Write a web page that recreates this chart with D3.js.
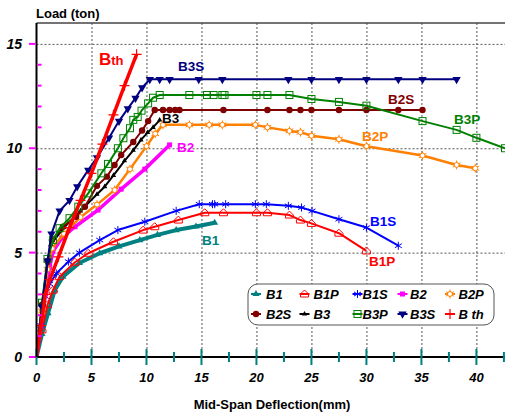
<!DOCTYPE html>
<html>
<head>
<meta charset="utf-8">
<script src="https://cdn.jsdelivr.net/npm/d3@7"></script>
<style>
  body { margin: 0; background: #fff; }
  svg text { font-family: "Liberation Sans", Arial, sans-serif; font-weight: bold; }
</style>
</head>
<body>
<svg class="chart"></svg>
<script>
var svgWidth = 505;
var svgHeight = 414;

// load-deflection data, [deflection mm, load ton]
var B1 = [[0,0],[0.5,1.1],[1.05,2.1],[1.66,3.2],[2.4,3.85],[3.9,4.5],[5.75,4.97],[7.5,5.3],[9.4,5.6],[11,5.85],[12.7,6.08],[14.5,6.25],[16.2,6.43]];
var B1P = [[0,0],[0.5,1.3],[1.0,2.5],[1.5,3.2],[2.1,3.85],[3.5,4.54],[4.7,4.97],[7.0,5.52],[9.7,6.08],[10.75,6.24],[12.9,6.56],[15.3,6.91],[17.0,6.91],[20.0,6.91],[21.0,6.91],[23.0,6.8],[24.0,6.56],[25.0,6.4],[27.5,5.93],[30.0,5.08]];
var B1S = [[0,0],[0.4,1.5],[0.8,2.9],[1.2,3.5],[1.8,4.0],[2.9,4.57],[3.9,5.0],[5.75,5.6],[7.4,6.08],[9.85,6.48],[12.7,7.0],[14.8,7.32],[16.0,7.32],[16.2,7.32],[17.2,7.32],[19.9,7.32],[20.9,7.32],[22.9,7.24],[24.1,7.16],[25.05,7.0],[27.5,6.6],[30.0,6.2],[32.9,5.33]];
var B2 = [[0,0],[0.4,1.5],[0.8,3.0],[1.2,4.3],[1.5,5.05],[2.3,5.7],[3.5,6.24],[5.6,7.04],[7.7,8.04],[9.85,9.0],[12.1,10.16]];
var B2P = [[0,0],[0.5,2.2],[1.0,4.2],[1.4,5.2],[2.5,5.9],[4.0,6.7],[5.5,7.3],[7.1,8.0],[8.5,9.0],[10.0,10.1],[10.8,10.7],[11.5,11.12],[13.9,11.12],[15.7,11.12],[16.9,11.12],[19.9,11.12],[21.0,11.0],[23.0,10.83],[24.0,10.77],[25.0,10.6],[27.5,10.43],[30.0,10.1],[35.1,9.65],[38.2,9.2],[39.9,9.04]];
var B2S = [[0,0],[0.5,2.5],[1.0,4.6],[1.4,5.6],[2.4,6.24],[3.6,6.72],[4.4,7.2],[5.5,8.2],[6.4,8.64],[7.1,9.2],[7.7,9.68],[8.8,10.3],[9.6,10.85],[10.15,11.3],[10.75,11.83],[11.5,11.83],[12.1,11.83],[12.6,11.83],[13.0,11.83],[17.0,11.83],[21.0,11.83],[23.0,11.83],[24.0,11.83],[25.0,11.83],[27.5,11.83],[30.0,11.83],[32.9,11.83],[35.1,11.83]];
var B3 = [[0,0],[0.5,2.4],[1.0,4.5],[1.3,5.4],[2.5,6.2],[4.0,7.0],[5.5,7.8],[6.2,8.16],[7.0,8.7],[8.0,9.4],[8.8,9.9],[9.5,10.4],[10.1,10.75],[10.6,11.0],[11.2,11.35]];
var B3P = [[0,0],[0.5,2.6],[1.0,4.7],[1.5,5.6],[2.1,6.17],[3.0,6.65],[3.8,7.2],[4.7,7.84],[5.9,8.8],[6.5,9.25],[7.4,10.0],[7.9,10.48],[8.5,10.96],[8.8,11.36],[9.2,11.5],[9.55,11.8],[10.15,12.15],[10.6,12.42],[11.2,12.55],[13.9,12.55],[15.5,12.55],[16.1,12.55],[16.9,12.55],[17.1,12.55],[20.0,12.55],[21.0,12.55],[23.0,12.55],[25.0,12.36],[27.5,12.22],[30.0,12.04],[35.1,11.3],[38.2,10.88],[40.0,10.5],[42.6,10.0]];
var B3S = [[0,0],[0.5,2.4],[1.0,4.6],[1.36,5.9],[2.1,7.0],[3.0,7.5],[3.7,8.16],[4.7,8.95],[5.5,9.55],[6.6,10.5],[7.5,11.3],[8.3,11.9],[9.0,12.4],[9.6,12.9],[10.3,13.3],[11.2,13.3],[12.1,13.3],[14.75,13.3],[16.9,13.3],[22.9,13.3],[25.0,13.3],[27.5,13.3],[30.0,13.3],[32.9,13.3],[35.1,13.3],[38.2,13.3]];
var Bth = [[0,0],[0.4,1.5],[0.8,3.0],[1.2,3.7],[2,4.8],[3,6.2],[4,7.5],[5,8.8],[6,10.2],[7,11.6],[8,13.0],[9.1,14.5]];

var seriesNames = ["B1","B1P","B1S","B2","B2P","B2S","B3","B3P","B3S","B th"];
var seriesData = [B1,B1P,B1S,B2,B2P,B2S,B3,B3P,B3S,Bth];
var xTicks = [0,5,10,15,20,25,30,35,40];
var yTicks = [0,5,10,15];

// style per series (same order as seriesNames)
var styles = [
  {color:"#008080", width:4,   marker:"tri"},
  {color:"#ff0000", width:2,   marker:"house"},
  {color:"#0000ff", width:2,   marker:"aster"},
  {color:"#ff00ff", width:3.5, marker:"square"},
  {color:"#ff8000", width:2.5, marker:"sun"},
  {color:"#800000", width:2,   marker:"circle"},
  {color:"#000000", width:2,   marker:"tiny"},
  {color:"#008000", width:2,   marker:"osquare"},
  {color:"#000080", width:2,   marker:"dtri"},
  {color:"#ff0000", width:3.5, marker:"plus"}
];
// draw order: back to front
var drawOrder = [0,1,2,3,4,6,5,7,8,9];

var plotLeft = 36.5, plotRight = 505, plotTop = 23, plotBottom = 357;

var svg = d3.select(".chart").attr("width", svgWidth).attr("height", svgHeight);

var x_scale = d3.scaleLinear().domain([0, 42.6]).range([plotLeft, plotRight]);
var y_scale = d3.scaleLinear().domain([0, 16]).range([plotBottom, plotTop]);

svg.append("clipPath").attr("id","plotclip").append("rect")
  .attr("x", plotLeft).attr("y", plotTop - 5).attr("width", plotRight - plotLeft).attr("height", plotBottom - plotTop + 10);

// gridlines
svg.append("g").attr("class","grid-x")
  .attr("transform","translate(0," + plotBottom + ")")
  .call(d3.axisBottom(x_scale).tickValues(xTicks.slice(1)).tickSize(-(plotBottom - plotTop)).tickFormat(""))
  .call(function(g){
    g.select(".domain").remove();
    g.selectAll("line").attr("stroke","#555").attr("stroke-dasharray","2,2");
  });
svg.append("g").attr("class","grid-y")
  .attr("transform","translate(" + plotLeft + ",0)")
  .call(d3.axisLeft(y_scale).tickValues(yTicks.slice(1)).tickSize(-(plotRight - plotLeft)).tickFormat(""))
  .call(function(g){
    g.select(".domain").remove();
    g.selectAll("line").attr("stroke","#555").attr("stroke-dasharray","2,2");
  });

// top border
svg.append("line").attr("x1", plotLeft).attr("x2", plotRight).attr("y1", plotTop).attr("y2", plotTop)
  .attr("stroke","#444").attr("stroke-width",1.5);

// curves
var line = d3.line().x(function(d){ return x_scale(d[0]); }).y(function(d){ return y_scale(d[1]); });
var plot = svg.append("g").attr("clip-path","url(#plotclip)");

drawOrder.forEach(function(i){
  var st = styles[i];
  var g = plot.append("g").attr("class","series");
  g.append("path").datum(seriesData[i])
    .attr("fill","none").attr("stroke", st.color).attr("stroke-width", st.width)
    .attr("stroke-linejoin","round").attr("d", line);
  g.selectAll(".mk").data(seriesData[i].slice(1)).enter().append("g")
    .attr("class","mk")
    .attr("transform", function(d){ return "translate(" + x_scale(d[0]) + "," + y_scale(d[1]) + ")"; })
    .each(function(){ drawMarker(d3.select(this), st); });
});

function drawMarker(g, st){
  var c = st.color;
  switch(st.marker){
    case "tri":
      g.append("path").attr("d", d3.symbol(d3.symbolTriangle, 22)()).attr("fill", c);
      break;
    case "house":
      g.append("path").attr("d","M-4,3L4,3L4,0L0,-4L-4,0Z").attr("fill","none").attr("stroke", c).attr("stroke-width",1);
      break;
    case "aster":
      g.append("path").attr("d", d3.symbol(d3.symbolAsterisk, 45)()).attr("fill","none").attr("stroke", c).attr("stroke-width",1);
      break;
    case "square":
      g.append("rect").attr("x",-2.5).attr("y",-2.5).attr("width",5).attr("height",5).attr("fill", c);
      break;
    case "sun":
      g.append("path").attr("d", d3.symbol(d3.symbolAsterisk, 55)()).attr("fill","none").attr("stroke", c).attr("stroke-width",1);
      g.append("circle").attr("r",2.5).attr("fill","#fff").attr("stroke", c).attr("stroke-width",1);
      break;
    case "circle":
      g.append("circle").attr("r",3.2).attr("fill", c);
      break;
    case "tiny":
      g.append("path").attr("d", d3.symbol(d3.symbolTriangle, 12)()).attr("fill", c);
      break;
    case "osquare":
      g.append("rect").attr("x",-3.5).attr("y",-3.5).attr("width",7).attr("height",7).attr("fill","none").attr("stroke", c).attr("stroke-width",1);
      break;
    case "dtri":
      g.append("path").attr("d", d3.symbol(d3.symbolTriangle, 30)()).attr("transform","rotate(180)").attr("fill", c);
      break;
    case "plus":
      g.append("path").attr("d","M-5,0H5M0,-5V5").attr("stroke", c).attr("stroke-width",1.2);
      break;
  }
}

// x axis
svg.append("line").attr("x1", 30).attr("x2", plotRight).attr("y1", plotBottom).attr("y2", plotBottom)
  .attr("stroke","#000").attr("stroke-width",2);
svg.selectAll(".xtick").data(d3.range(0, 42.6, 2.5)).enter().append("line").attr("class","xtick")
  .attr("x1", function(d){ return x_scale(d); }).attr("x2", function(d){ return x_scale(d); })
  .attr("y1", function(d){ return plotBottom - (d % 5 === 0 ? 8 : 5); })
  .attr("y2", function(d){ return plotBottom + (d % 5 === 0 ? 8 : 5); })
  .attr("stroke","#008080").attr("stroke-width",2);
svg.selectAll(".xlab").data(xTicks).enter().append("text").attr("class","xlab")
  .attr("x", function(d){ return x_scale(d); }).attr("y", 382)
  .attr("text-anchor","middle").attr("font-size",13).attr("font-style","italic")
  .text(function(d){ return d; });

// y axis
svg.append("line").attr("x1", plotLeft).attr("x2", plotLeft).attr("y1", plotTop).attr("y2", plotBottom)
  .attr("stroke","#000").attr("stroke-width",2);
svg.selectAll(".ytick").data(d3.range(0, 16, 1)).enter().append("line").attr("class","ytick")
  .attr("x1", function(d){ return d % 5 === 0 ? 29 : plotLeft + 1; })
  .attr("x2", function(d){ return d % 5 === 0 ? plotLeft - 1 : plotLeft + 5; })
  .attr("y1", function(d){ return y_scale(d); }).attr("y2", function(d){ return y_scale(d); })
  .attr("stroke","#ff00ff").attr("stroke-width",2);
svg.selectAll(".ylab").data(yTicks).enter().append("text").attr("class","ylab")
  .attr("x", 22).attr("y", function(d){ return y_scale(d) + 5; })
  .attr("text-anchor","end").attr("font-size",14).attr("font-style","italic")
  .text(function(d){ return d; });

svg.append("text").text("Load (ton)").attr("x", 36).attr("y", 18).attr("font-size",13);
svg.append("text").text("Mid-Span Deflection(mm)").attr("x", 272).attr("y", 409)
  .attr("text-anchor","middle").attr("font-size",13);

// curve labels
var labels = [
  {t:"B3S", x:178, y:71, c:"#000080"},
  {t:"B2S", x:388, y:104, c:"#800000"},
  {t:"B3P", x:454, y:124, c:"#008000"},
  {t:"B2P", x:362, y:141, c:"#ff8000"},
  {t:"B3", x:162, y:123, c:"#000000"},
  {t:"B2", x:177, y:152, c:"#ff00ff"},
  {t:"B1", x:202, y:245, c:"#008080"},
  {t:"B1S", x:370, y:226, c:"#0000ff"},
  {t:"B1P", x:369, y:266, c:"#ff0000"}
];
labels.forEach(function(l){
  svg.append("text").text(l.t).attr("x", l.x).attr("y", l.y).attr("font-size",13.5).attr("fill", l.c);
});
var bth = svg.append("text").attr("x", 99).attr("y", 65).attr("fill","#ff0000");
bth.append("tspan").text("B").attr("font-size",17);
bth.append("tspan").text("th").attr("font-size",13);

// legend
var legend = svg.append("g").attr("class","legend");
legend.append("rect").attr("x",248).attr("y",284).attr("width",246).attr("height",41)
  .attr("rx",10).attr("fill","#fff").attr("stroke","#555").attr("stroke-width",1);
var colX = [256, 304.5, 357.5, 402.5, 450];
var textX = [266, 313.5, 362.5, 410, 458.5];
seriesNames.forEach(function(name, i){
  var row = Math.floor(i / 5), col = i % 5;
  var cy = row === 0 ? 294 : 314;
  var st = styles[i];
  var item = legend.append("g");
  item.append("line").attr("x1", colX[col] - 5).attr("x2", colX[col] + 5).attr("y1", cy).attr("y2", cy)
    .attr("stroke", st.color).attr("stroke-width", 2);
  var mk = item.append("g").attr("transform","translate(" + colX[col] + "," + cy + ")");
  drawMarker(mk, st);
  item.append("text").text(name).attr("x", textX[col]).attr("y", cy + 5)
    .attr("font-size",13).attr("font-style","italic").attr("fill","#000");
});
</script>
</body>
</html>
